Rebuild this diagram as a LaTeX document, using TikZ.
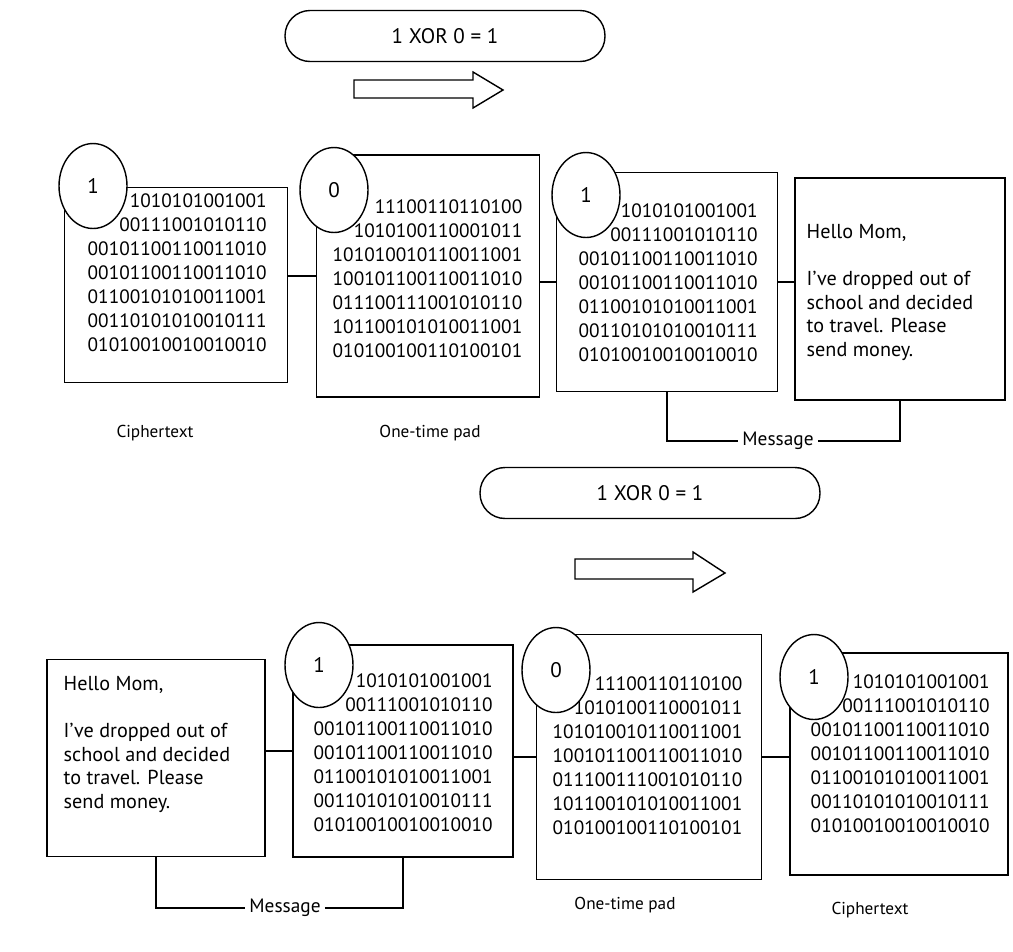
\documentclass[tikz,border=0pt]{standalone}
\usepackage{fontspec}
\setmainfont{PT Sans}
\usetikzlibrary{shapes.geometric}

\newcommand{\cipherbits}{1010101001001\\00111001010110\\00101100110011010\\00101100110011010\\01100101010011001\\00110101010010111\\01010010010010010}
\newcommand{\padbits}{11100110110100\\1010100110001011\\101010010110011001\\100101100110011010\\011100111001010110\\101100101010011001\\010100100110100101}

\begin{document}
\begin{tikzpicture}[x=0.02cm,y=-0.02cm,line width=.8pt,
	card/.style={draw,inner sep=0,fill=white},
	bits/.style={anchor=north west,inner sep=0,align=right,font=\fontsize{11}{13.7}\selectfont},
	note/.style={anchor=north west,inner sep=0,align=left,font=\fontsize{11.5}{13.5}\selectfont},
	bitmark/.style={draw,ellipse,fill=white,minimum width=1.36cm,minimum height=1.7cm,inner sep=0,font=\large},
	pill/.style={draw,rounded corners=.5cm,minimum height=1.02cm,inner sep=0,font=\large},
	caption/.style={inner sep=2pt,font=\fontsize{9.8}{12}\selectfont},
	bracket/.style={inner sep=2pt,font=\fontsize{11}{13}\selectfont}]
			\useasboundingbox (0,0) rectangle (1013,951);
			
			\node[pill,minimum width=6.4cm] (xor1) at (445,36) {1 XOR 0 = 1};
			\draw (354,80) -- (473,80) -- (473,72) -- (503,90) -- (473,108) -- (473,98) -- (354,98) -- cycle;
			
			\node[card,minimum width=4.46cm,minimum height=3.9cm] (ct1) at (176,285) {};
			\node[bits] (ct1bits) at (87,193) {\cipherbits};
			\node[bitmark] (ct1bit) at (93,186) {1};
			\node[caption] (ct1cap) at (155,433) {Ciphertext};
			
			\node[card,minimum width=4.46cm,minimum height=4.84cm] (pad1) at (428,276) {};
			\node[bits] (pad1bits) at (332,199) {\padbits};
			\node[bitmark] (pad1bit) at (334,190) {0};
			\node[caption] (pad1cap) at (430,433) {One-time pad};
			
			\node[card,minimum width=4.42cm,minimum height=4.38cm] (msgb1) at (667,282) {};
			\node[bits] (msgb1bits) at (578,203) {\cipherbits};
			\node[bitmark] (msgb1bit) at (586,195) {1};
			
			\node[card,minimum width=4.2cm,minimum height=4.44cm] (hello1) at (900,289) {};
			\node[note] (hello1txt) at (806,224) {Hello Mom,\\[13pt]I've dropped out of\\school and decided\\to travel. Please\\send money.};
			
			\draw (pad1.west) -- (pad1.west -| ct1.east);
			\draw (msgb1.west) -- (msgb1.west -| pad1.east);
			\draw (msgb1.east) -- (msgb1.east -| hello1.west);
			
			\node[bracket] (msg1) at (778,441) {Message};
			\draw (msgb1.south) |- (msg1) -| (hello1.south);
			
			\node[pill,minimum width=6.8cm] (xor2) at (650,493) {1 XOR 0 = 1};
			\draw (575,559) -- (693,559) -- (693,552) -- (725,573) -- (693,592) -- (693,579) -- (575,579) -- cycle;
			
			\node[card,minimum width=4.36cm,minimum height=3.94cm] (hello2) at (156,758) {};
			\node[note] (hello2txt) at (63,676) {Hello Mom,\\[13pt]I've dropped out of\\school and decided\\to travel. Please\\send money.};
			
			\node[card,minimum width=4.4cm,minimum height=4.24cm] (msgb2) at (403,751) {};
			\node[bits] (msgb2bits) at (313,673) {\cipherbits};
			\node[bitmark] (msgb2bit) at (319,665) {1};
			
			\node[card,minimum width=4.5cm,minimum height=4.9cm] (pad2) at (649,757) {};
			\node[bits] (pad2bits) at (552,676) {\padbits};
			\node[bitmark] (pad2bit) at (556,670) {0};
			\node[caption] (pad2cap) at (625,905) {One-time pad};
			
			\node[card,minimum width=4.36cm,minimum height=4.44cm] (ct2) at (899,764) {};
			\node[bits] (ct2bits) at (810,674) {\cipherbits};
			\node[bitmark] (ct2bit) at (814,677) {1};
			\node[caption] (ct2cap) at (870,910) {Ciphertext};
			
			\draw (msgb2.west) -- (msgb2.west -| hello2.east);
			\draw (pad2.west) -- (pad2.west -| msgb2.east);
			\draw (pad2.east) -- (pad2.east -| ct2.west);
			
			\node[bracket] (msg2) at (285,908) {Message};
			\draw (hello2.south) |- (msg2) -| (msgb2.south);
\end{tikzpicture}
\end{document}
